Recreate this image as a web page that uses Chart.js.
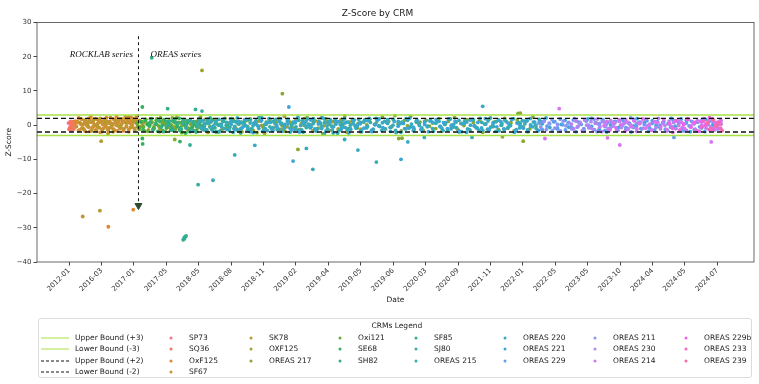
<!DOCTYPE html>
<html>
<head>
<meta charset="utf-8">
<script src="https://cdn.jsdelivr.net/npm/chart.js@4.4.1/dist/chart.umd.min.js"></script>
<style>
  html, body { margin: 0; padding: 0; background: #fff; }
  #wrap { position: relative; width: 759px; height: 384px; }
  #legend { position: absolute; left: 38px; top: 318px; width: 714px; height: 60px;
            border: 1px solid #dcdcdc; border-radius: 3px; box-sizing: border-box; }
  .lg { position: absolute; font-family: "DejaVu Sans", sans-serif; font-size: 7.5px; color: #222;
        white-space: nowrap; transform: translateY(-50%); line-height: 1; }
  .dot { position: absolute; width: 3px; height: 3px; border-radius: 50%; transform: translate(-50%, -50%); }
  .ln { position: absolute; width: 28px; height: 0; transform: translateY(-50%); }
</style>
</head>
<body>
<div id="wrap">
  <canvas id="zChart" width="759" height="384"></canvas>
  <div id="legend"></div>
</div>
<script>
// x axis: one slot per tick label, in tick units
const dateTicks = ['2012-01','2016-03','2017-01','2017-05','2018-05','2018-08','2018-11','2019-02','2019-04',
  '2019-05','2019-06','2020-03','2020-09','2021-11','2022-01','2022-05','2023-05','2023-10','2024-04','2024-05','2024-07'];

const crmNames = ['SP73','SQ36','OxF125','SF67','SK78','OXF125','OREAS 217','Oxi121','SE68','SH82','SF85','SJ80',
  'OREAS 215','OREAS 220','OREAS 221','OREAS 229','OREAS 211','OREAS 230','OREAS 214','OREAS 229b','OREAS 233','OREAS 239'];
const crmColors = ['#f77189','#f3785a','#df8632','#c99232','#b69a31','#a2a131','#87a831','#62ae31','#33b05c','#34af80','#34ae92',
  '#36ada4','#37abb4','#38a9c3','#3ba5d6','#639cf0','#8f93f4','#b584f4','#d873f1','#ef63e3','#f567c6','#f66ba9'];

// first and last date slot used by each CRM
const crmSpan = [[-0.02,0.12],[0.02,0.17],[0.19,2.05],[0.22,2.12],[0.35,2.3],[2.1,9.0],[2.12,14.6],[2.1,4.0],[2.15,4.05],
  [2.5,4.5],[3.0,5.5],[3.5,9.0],[4.0,14.5],[4.05,14.55],[5.0,20.1],[14.5,20.1],[14.55,17.5],[15.5,20.12],[16.5,20.1],
  [18.5,20.1],[19.5,20.1],[19.7,20.15]];

// z-scores in analysis order
const sp73Z = [0.6,-1.2,0.9,-0.4,1.1,-1.5,0.2,-0.8];
const sq36Z = [-0.9,0.7,-1.3,0.4,-0.2,1.0,-1.1,0.3];
const oxf125Z = [1.2,-0.5,0.8,2.1,-1.4,0.3,1.7,-0.9,0.5,-1.8,1.0,0.1,-0.6,1.5,2.4,-1.1,0.7,-0.3,1.9,-1.6,0.4,1.3,-0.8,0.9,-1.9,
  0.2,1.6,-0.4,2.2,-1.2,0.6,1.1,-0.7,0.0,1.8,-1.5,0.8,2.5,-0.2,1.4,-1.0,0.3,1.2,-1.7,0.9,2.0,-0.5,1.5,-1.3,0.6,2.3,-0.1,1.0,-0.9,1.7];
const sf67Z = [-0.3,1.1,-1.6,0.7,1.9,-0.8,0.2,-1.3,1.4,0.5,-0.1,2.0,-1.8,0.9,-0.6,1.3,0.1,-1.4,1.7,-0.4,0.8,-2.1,1.2,0.3,-0.9,
  1.6,-0.2,0.6,-1.5,1.0,2.2,-0.7,0.4,-1.2,1.5,0.0,-1.7,0.9,1.8,-0.5,0.3,-1.0,1.1,2.4,-0.3,0.7,-1.9,1.4,-0.6,0.2,1.9,-1.1,0.8,2.6,-0.4];
const sk78Z = [0.5,-1.0,1.3,-0.2,0.9,-1.7,1.6,0.1,-0.6,2.0,-1.3,0.7,1.2,-0.8,0.3,-1.9,1.5,0.0,-0.4,1.8,-1.1,0.6,2.3,-0.7,1.0,
  -1.4,0.4,1.4,-0.3,0.8];
const oxf125bZ = [1.0,-0.7,0.3,1.6,-1.4,0.8,-0.2,1.9,-1.0,0.5,-1.8,1.2,0.1,-0.5,2.3,-1.2,0.7,1.4,-0.9,0.2,-1.6,1.1,0.4,-0.3,1.7,
  -2.1,0.9,-0.6,1.3,0.0,-1.3,2.0,-0.8,0.6,1.5,-1.1,0.3,-1.9,1.0,-0.4,1.8,-1.5,0.5,1.2,-0.1,-2.4,0.8,1.6,-0.7,0.2,1.1,-1.2,2.6,-0.5,0.9,
  -0.8,1.4,-1.3,0.5,1.9,-0.4,0.1,-1.7,1.2,-0.9,2.1,-0.2,0.7,-1.5,1.0,0.3,-1.1,1.6,-0.6,-2.0,0.9,1.3,-0.3,0.4,-1.2];
const oreas217Z = [-0.4,1.1,-1.5,0.6,1.8,-0.9,0.3,-1.9,1.3,0.0,-0.6,2.1,-1.2,0.8,-0.2,1.5,-1.7,0.4,1.0,-0.8,2.4,-1.4,0.7,-0.3,1.6,
  -2.0,0.2,1.2,-1.0,0.5,1.9,-0.5,-1.6,0.9,0.1,1.4,-1.3,0.6,-2.2,1.7,-0.7,0.3,1.1,-1.1,0.8,2.0,-0.1,-1.8,1.3,0.4,-0.9,1.6,-1.4,0.0,
  2.2,-0.6,1.0,-1.2,0.5,-2.5,1.8,0.2,-0.4,1.2,-1.6,0.7,2.7,-1.0,0.3,1.5,-0.8,-1.9,0.9,0.1,1.7,-1.3,0.6,-0.3,2.3,-1.1,1.1,-0.5,2.8,
  0.4,-1.7,1.4,-0.2,2.5,-0.9,0.8,0.9,-1.5,1.4,-0.3,0.6,-1.0,1.9,-1.8,0.2,1.1,-0.6,2.2,-1.2,0.5,-0.1,1.6,-1.6,0.8,-0.8,1.3,-2.1,
  0.3,1.7,-0.4,1.0,-1.3,0.0,2.0,-0.9,0.7,-1.7,1.5,0.4,-0.5,1.2,-1.1,2.4,-0.2,0.6,-1.4];
const oxi121Z = [0.4,-1.2,1.1,-0.5,1.7,-1.8,0.2,0.9,-0.9,1.4,-0.2,2.1,-1.5,0.6,-0.7,1.2,0.0,-1.3,1.8,-0.4,0.7,-2.2,1.0,0.3,-1.0,
  1.5,-0.6,0.9,-1.6,0.5];
const se68Z = [-0.6,0.9,-1.4,1.3,0.2,-0.3,1.9,-1.1,0.5,-1.8,1.0,-0.1,1.6,-0.8,0.4,-1.5,1.2,0.7,-0.4,2.0,-1.2,0.3,-2.4,0.8,1.4,
  -0.7,0.1,-1.7,1.1,-0.2];
const sh82Z = [0.8,-1.3,0.3,1.5,-0.6,-1.9,1.1,0.0,-0.9,1.7,0.5,-1.6,1.0,-0.3,1.3,-1.1,0.6,-2.0,1.8,-0.5,0.2,-1.4,0.9,1.4,-0.8];
const sf85Z = [-0.2,1.2,-1.5,0.7,-0.8,1.6,0.1,-1.9,1.0,-0.4,1.4,-1.2,0.5,2.1,-0.7,0.3,-1.6,1.1,-0.1,1.8,-1.0,0.6,-2.3,0.9,-0.5];
const sj80Z = [0.6,-0.9,1.3,-1.7,0.2,1.0,-0.4,1.8,-1.2,0.5,-2.0,1.4,0.0,-0.6,1.1,-1.4,0.8,-0.2,1.6,-1.0,0.3,2.2,-1.8,0.9,-0.5,
  1.2,-1.3,0.4,-0.8,1.7,-0.1,0.7,-1.5,1.3,-0.7,0.1,1.9,-1.1,0.6,-2.5,1.0,-0.3,1.5,-1.6,0.2,0.9,-0.9,1.4,-0.4,0.8];
const oreas215Z = [0.9,-1.1,0.4,1.6,-0.6,-1.8,1.2,0.0,-0.4,1.9,-1.3,0.7,-2.1,1.0,0.3,-0.9,1.5,-1.5,0.6,-0.2,1.3,-1.0,2.2,0.1,
  -1.6,0.8,-0.7,1.7,-1.2,0.5,-0.1,1.1,-2.0,0.9,-0.5,1.4,-1.4,0.2,1.8,-0.8,0.4,-1.7,1.2,-0.3,0.7,-1.1,1.6,-2.3,0.3,1.0,-0.6,1.9,
  -1.3,0.0,1.3,-0.9,0.6,-1.9,1.5,-0.4,0.8,-1.2,2.0,-0.2,-1.5,1.1,0.5,-0.7,1.7,-2.2,0.2,0.9,-1.0,1.4,-0.5,-1.6,1.0,0.4,-0.8,1.2,
  -0.3,1.5,-1.8,0.6,1.1,-0.9,0.2,-1.4,1.8,-0.6,0.9,-2.0,0.4,1.3,-1.1,0.0,1.6,-0.7,-1.5,0.8,0.3,-1.2,2.1,-0.4,1.0,-1.7,0.5,1.4,
  -0.8,-0.1,1.9,-1.3,0.7,-0.5,1.2,-1.9,0.1,0.9,-1.0,1.7];
const oreas220Z = [-0.7,1.3,-1.4,0.5,1.0,-0.2,-1.9,1.7,0.3,-1.0,0.8,-1.6,1.4,-0.4,2.1,-1.2,0.6,0.0,-0.8,1.5,-2.2,0.9,-0.3,1.2,
  -1.5,0.4,1.9,-1.1,0.7,-0.6,1.1,-1.8,0.2,1.6,-0.9,0.5,-1.3,2.3,-0.1,-2.0,1.0,0.3,-0.5,1.4,-1.7,0.8,-1.0,1.8,-0.2,0.6,-1.4,1.2,
  -2.4,0.1,1.5,-0.7,0.9,-1.2,0.4,-0.3,1.7,-1.6,1.0,-0.8,2.0,-1.9,0.2,1.3,-0.4,0.7,-1.1,1.6,-0.6,0.0,-1.5,1.1,-2.1,0.5,1.9,-0.9,
  0.3,-1.3,1.4,-0.1,-1.7,0.8,-0.5,1.2,-1.0,0.6,1.1,-0.4,-1.6,0.7,1.8,-1.1,0.2,-0.7,1.4,-1.9,0.5,0.9,-1.3,1.6,-0.2,-0.9,2.0,-1.5,
  0.3,1.2,-0.6,0.8,-1.8,1.5,0.0,-1.1,1.0,-0.3,1.7,-2.1,0.6,-0.8,1.3,0.4,-1.4,1.9,-0.5,0.1,-1.7,1.1];
const oreas221Z = [0.2,-1.3,1.1,-0.6,1.7,-1.9,0.5,-0.2,1.4,-1.0,0.8,-1.6,0.0,1.9,-0.8,0.4,-1.4,1.2,-2.0,0.7,-0.4,1.5,-1.1,0.3,
  2.2,-1.7,0.9,-0.5,1.0,-1.2,0.6,-2.3,1.6,-0.1,0.4,-0.9,1.3,-1.5,0.1,1.8,-0.7,0.8,-1.8,1.1,-0.3,0.5,-1.1,2.0,-0.6,1.4,-1.3,0.2,
  -1.9,0.9,1.6,-0.4,0.7,-1.0,0.0,1.2,-1.6,0.5,-2.1,1.5,-0.2,0.8,-0.8,1.9,-1.4,0.3,-0.5,1.1,-1.2,0.6,1.7,-1.7,0.1,-0.9,1.3,-0.3,
  0.9,-1.5,0.4,2.1,-0.7,1.0,-1.1,0.2,1.4,-0.6,-0.9,1.2,0.3,-1.6,1.8,-0.4,0.7,-1.2,1.5,-2.0,0.1,1.0,-0.7,1.6,-1.4,0.5,-0.2,1.9,
  -1.0,0.8,-1.8,1.3,0.0,-0.6,1.1,-1.5,2.0,-0.3,0.6,-1.1,1.4,-1.9,0.4,0.9,-0.8,1.7,-1.3,0.2,-0.5,1.2];
const oreas229Z = [0.7,-1.2,1.3,-0.3,0.4,-1.7,1.0,-0.8,1.8,0.1,-1.4,0.6,-0.5,1.5,-1.9,0.9,0.2,-1.0,1.2,-0.6,2.0,-1.3,0.5,-0.2,
  1.6,-1.6,0.8,-0.9,0.3,1.1,-1.5,0.0,1.4,-0.7,0.6,-2.0,1.7,-0.4,0.9,-1.1,0.2,1.3,-0.8,0.5,-1.4,1.0,-0.1,0.7,-1.2,0.4,
  -0.6,1.4,-1.0,0.3,1.8,-1.7,0.6,-0.2,1.1,-1.3,0.9,-0.5,1.6,-1.9,0.2,1.2,-0.8,0.5,-1.1,1.5];
const oreas211Z = [-0.5,1.0,-1.3,0.6,1.6,-0.9,0.2,-1.7,1.2,-0.2,0.8,-1.1,1.9,-0.6,0.4,-1.5,1.3,0.0,-0.8,1.7,-1.9,0.5,1.1,-0.4,
  -1.2,0.9,0.3,-1.6,1.4,-0.1,0.7,-1.0,2.1,-0.7,0.5];
const oreas230Z = [0.3,-1.1,1.2,-0.4,0.8,-1.6,1.5,0.0,-0.8,1.0,-1.3,0.5,1.8,-0.6,-1.9,0.9,0.2,-1.0,1.4,-0.3,0.7,-1.5,1.1,-0.7,
  0.4,1.6,-1.2,0.1,-0.5,1.3,-1.8,0.6,0.9,-0.9,1.7,-0.2,0.3,-1.4,1.0,-0.6,2.0,-1.1,0.5,0.0,-1.7,1.2,-0.4,0.8,-1.0,1.4,
  1.0,-0.7,0.4,-1.5,1.6,-0.2,0.8,-1.2,1.3,-1.8,0.1,1.9,-0.9,0.6,-0.4,1.2,-1.4,0.7,-1.0,0.3];
const oreas214Z = [-0.2,1.1,-1.4,0.6,-0.7,1.5,0.2,-1.8,0.9,-0.4,1.3,-1.1,0.4,1.8,-0.9,0.0,-1.5,1.0,0.7,-0.5,1.6,-1.3,0.3,-2.1,
  1.2,-0.1,0.8,-1.0,1.9,-0.6,0.5,-1.6,1.1,-0.3,0.2,1.4,-1.2,0.6,-0.8,1.0];
const oreas229bZ = [0.5,-0.9,1.3,-1.4,0.1,1.7,-0.5,0.8,-1.8,1.0,-0.2,2.2,-1.1,0.6,1.4];
const oreas233Z = [-0.6,1.2,0.3,-1.3,1.8,-0.2,0.9,-0.9];
const oreas239Z = [0.7,-1.0,1.5,-0.4,0.2,-1.6];

const crmZ = [sp73Z, sq36Z, oxf125Z, sf67Z, sk78Z, oxf125bZ, oreas217Z, oxi121Z, se68Z, sh82Z, sf85Z, sj80Z,
  oreas215Z, oreas220Z, oreas221Z, oreas229Z, oreas211Z, oreas230Z, oreas214Z, oreas229bZ, oreas233Z, oreas239Z];

// outlying results: [date slot, z-score]
const crmOutliers = [
  [], [],
  [[1.21,-29.7],[1.98,-24.7]],
  [[0.42,-26.7]],
  [[0.95,-25.0],[0.99,-4.7],[1.2,-2.5]],
  [[4.1,16.0]],
  [[3.26,-4.2],[6.58,9.2],[7.06,-7.1],[10.17,-3.9],[10.27,-3.8],[13.37,-3.4],[13.85,3.4],[13.92,3.5],[14.01,-4.7]],
  [],
  [[2.26,5.3],[2.26,-3.9],[2.27,-5.5],[3.42,-4.8]],
  [[2.55,19.7],[3.04,4.8]],
  [[3.9,4.6],[3.73,-5.8],[3.52,-33.5],[3.55,-32.9],[3.56,-33.2],[3.58,-32.6],[3.61,-32.4]],
  [[4.1,4.1],[3.98,-17.4]],
  [[4.44,-16.1],[5.11,-8.7],[7.52,-12.9],[9.48,-10.8]],
  [[5.73,-5.9],[7.32,-6.8],[8.5,-4.2],[8.91,-7.3],[10.45,-4.9],[10.96,-3.6],[12.43,-3.6],[12.76,5.5]],
  [[6.78,5.3],[6.91,-10.5],[10.24,-10.0]],
  [[18.66,-3.6]],
  [], [],
  [[14.68,-3.9],[15.12,4.8],[16.61,-3.7],[16.99,-5.8],[19.81,-4.9]],
  [], [], []
];

const boundNames = ['Upper Bound (+3)','Lower Bound (-3)','Upper Bound (+2)','Lower Bound (-2)'];
const boundValues = [3, -3, 2, -2];
const boundColors = ['#a9e044','#a9e044','#111111','#111111'];

// series split marker
const splitSlot = 2.14;
const splitTop = 26;
const splitTip = -23.5;
const noteLabels = ['ROCKLAB series', 'OREAS series'];

const xMin = -0.99, xMax = 21.13;

const datasets = [];
boundValues.forEach((v, i) => {
  datasets.push({
    label: boundNames[i], type: 'line', order: 0,
    data: [{ x: xMin, y: v }, { x: xMax, y: v }],
    borderColor: boundColors[i], borderWidth: i < 2 ? 1.5 : 1.3,
    borderDash: i < 2 ? [] : [5, 3], pointRadius: 0, fill: false
  });
});
datasets.push({
  label: 'split', type: 'line', order: 0,
  data: [{ x: splitSlot, y: splitTop }, { x: splitSlot, y: splitTip + 1 }],
  borderColor: '#111', borderWidth: 1, borderDash: [3, 3], pointRadius: 0, fill: false
});
datasets.push({
  label: 'arrow', type: 'scatter', order: 0,
  data: [{ x: splitSlot, y: splitTip }],
  pointStyle: 'triangle', rotation: 180, pointRadius: 4,
  backgroundColor: '#2f4a2f', borderColor: '#2f4a2f', borderWidth: 1
});
crmNames.forEach((name, i) => {
  const zs = crmZ[i];
  const [a, b] = crmSpan[i];
  const pts = zs.map((z, k) => ({ x: a + (b - a) * k / Math.max(zs.length - 1, 1), y: z }));
  crmOutliers[i].forEach(p => pts.push({ x: p[0], y: p[1] }));
  datasets.push({
    label: name, type: 'scatter', order: 100 - i, data: pts,
    backgroundColor: crmColors[i], borderWidth: 0, pointRadius: 1.9, pointHoverRadius: 1.9
  });
});

const framePlugin = {
  id: 'frame',
  afterDatasetsDraw(chart) {
    const { ctx, chartArea: ca, scales } = chart;
    ctx.save();
    ctx.strokeStyle = '#444';
    ctx.lineWidth = 0.8;
    ctx.strokeRect(ca.left, ca.top, ca.right - ca.left, ca.bottom - ca.top);
    ctx.fillStyle = '#111';
    ctx.font = 'italic 9px "Liberation Serif"';
    ctx.textBaseline = 'middle';
    const ny = scales.y.getPixelForValue(20.6);
    ctx.textAlign = 'right';
    ctx.fillText(noteLabels[0], scales.x.getPixelForValue(splitSlot - 0.17), ny);
    ctx.textAlign = 'left';
    ctx.fillText(noteLabels[1], scales.x.getPixelForValue(splitSlot + 0.37), ny);
    ctx.restore();
  }
};

Chart.defaults.font.family = '"DejaVu Sans", sans-serif';

const ctx = document.getElementById('zChart').getContext('2d');
new Chart(ctx, {
  type: 'scatter',
  data: { datasets: datasets },
  plugins: [framePlugin],
  options: {
    responsive: false,
    animation: false,
    layout: { padding: { left: 0, right: 4, top: 0, bottom: 78 } },
    plugins: {
      legend: { display: false },
      tooltip: { enabled: false },
      title: { display: true, text: 'Z-Score by CRM', color: '#222',
               font: { size: 9, weight: 'normal' }, padding: { top: 8, bottom: 3.7 } }
    },
    scales: {
      x: {
        type: 'linear', min: xMin, max: xMax,
        afterBuildTicks: s => { s.ticks = dateTicks.map((_, i) => ({ value: i })); },
        afterFit: s => { s.height = 44; },
        ticks: { autoSkip: false, minRotation: 45, maxRotation: 45, color: '#333', font: { size: 7 }, padding: 1,
                 callback: v => dateTicks[v] },
        grid: { display: true, drawOnChartArea: false, tickLength: 3.5, color: '#444' },
        border: { display: false },
        title: { display: true, text: 'Date', color: '#222', font: { size: 7.5 }, padding: { top: 0, bottom: 1 } }
      },
      y: {
        min: -40, max: 30,
        afterFit: s => { s.width = 37; },
        ticks: { stepSize: 10, color: '#333', font: { size: 7 }, padding: 2,
                 callback: v => String(v).replace('-', '\u2212') },
        grid: { display: true, drawOnChartArea: false, tickLength: 3.5, color: '#444' },
        border: { display: false },
        title: { display: true, text: 'Z-Score', color: '#222', font: { size: 7.5 }, padding: { top: 5, bottom: 0 } }
      }
    }
  }
});

// legend laid out in columns like the original
const legend = document.getElementById('legend');
const lgLeft = 38, lgTop = 318;
const colText = [74, 188, 268, 357, 433, 522, 612, 703];
const rowY = [337, 348.3, 359.6, 370.9];
const colGroups = [[0, 4], [4, 3], [7, 3], [10, 3], [13, 3], [16, 3], [19, 3]];

function addEl(cls, x, y, html, style) {
  const d = document.createElement('div');
  d.className = cls;
  d.style.left = (x - lgLeft) + 'px';
  d.style.top = (y - lgTop) + 'px';
  if (html) d.textContent = html;
  if (style) Object.assign(d.style, style);
  legend.appendChild(d);
}
addEl('lg', 396 - 25.5, 325, 'CRMs Legend');
boundNames.forEach((n, i) => {
  addEl('ln', 40, rowY[i], '', { borderTop: i < 2 ? '1.4px solid ' + boundColors[i] : '1.2px dashed ' + boundColors[i] });
  addEl('lg', colText[0], rowY[i], n);
});
colGroups.forEach((g, c) => {
  for (let r = 0; r < g[1]; r++) {
    const i = g[0] + r;
    addEl('dot', colText[c + 1] - 18, rowY[r], '', { background: crmColors[i] });
    addEl('lg', colText[c + 1], rowY[r], crmNames[i]);
  }
});
</script>
</body>
</html>
